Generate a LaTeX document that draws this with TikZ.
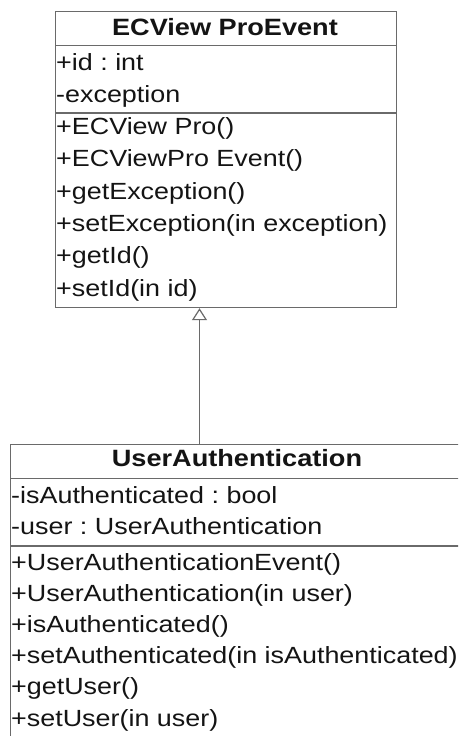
\documentclass[tikz,border=0pt]{standalone}
\usepackage{fontspec}
\setmainfont{Liberation Sans}
\newfontfamily\umlfont[FakeStretch=1.15]{Liberation Sans}
\usetikzlibrary{arrows.meta}
\definecolor{linegray}{HTML}{6A6A6A}
\definecolor{textdark}{HTML}{141414}
\frenchspacing
\begin{document}
\begin{tikzpicture}[x=1pt,y=-1pt,
  classbox/.style={draw=linegray, line width=1.2pt, inner sep=0pt, anchor=north west},
  sepline/.style={draw=linegray, line width=1.2pt},
  member/.style={anchor=base west, inner sep=0pt, text=textdark, font=\umlfont\fontsize{23.4}{28}\selectfont},
  classname/.style={anchor=base, inner sep=0pt, text=textdark, font=\umlfont\fontsize{23.6}{28}\selectfont\bfseries},
  inherit/.style={draw=linegray, line width=1.2pt, -{Triangle[open, width=15pt, length=12pt, line width=1.2pt]}}]
\useasboundingbox (0,0) rectangle (458,736);
\clip (0,0) rectangle (458,736);
\fill[white] (0,0) rectangle (458,736);

% superclass
\node[classbox, minimum width=341pt, minimum height=296pt] (sup) at (55,11) {};
\draw[sepline] (55,45.7) -- (396,45.7);
\draw[sepline] (55,113) -- (396,113);
\node[classname] (supname) at (225,35) {ECView ProEvent};
\node[member] (s1) at (56,70) {+id : int};
\node[member] (s2) at (56,102.3) {-exception};
\node[member] (s3) at (56,134.6) {+ECView Pro()};
\node[member] (s4) at (56,166.9) {+ECViewPro Event()};
\node[member] (s5) at (56,199.2) {+getException()};
\node[member] (s6) at (56,231.5) {+setException(in exception)};
\node[member] (s7) at (56,263.8) {+getId()};
\node[member] (s8) at (56,296.1) {+setId(in id)};

% subclass
\node[classbox, minimum width=454pt, minimum height=320pt] (sub) at (10,443.8) {};
\draw[sepline] (10,478.3) -- (464,478.3);
\draw[sepline] (10,546) -- (464,546);
\node[classname] (subname) at (237,466.7) {UserAuthentication};
\node[member] (u1) at (11,503.5) {-isAuthenticated : bool};
\node[member] (u2) at (11,534.5) {-user : UserAuthentication};
\node[member] (u3) at (11,570) {+UserAuthenticationEvent()};
\node[member] (u4) at (11,601.2) {+UserAuthentication(in user)};
\node[member] (u5) at (11,632.4) {+isAuthenticated()};
\node[member] (u6) at (11,663.6) {+setAuthenticated(in isAuthenticated)};
\node[member] (u7) at (11,694.8) {+getUser()};
\node[member] (u8) at (11,726) {+setUser(in user)};

% generalization
\coordinate (ax) at (199.5,0);
\draw[inherit] (sub.north -| ax) -- (sup.south -| ax);
\end{tikzpicture}
\end{document}
